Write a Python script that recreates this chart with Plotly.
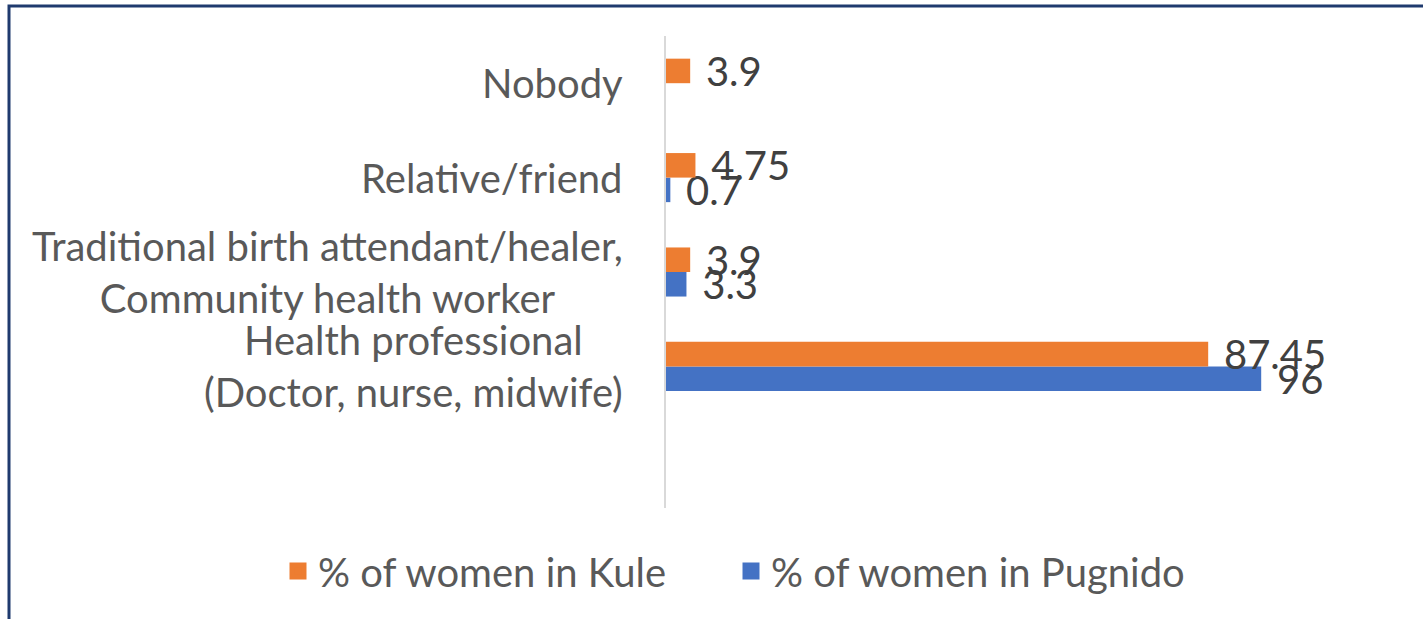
import plotly.graph_objects as go

# Data (categories listed bottom -> top; first is an empty placeholder slot)
categories = ["blank", "Health professional", "Traditional birth attendant", "Relative/friend", "Nobody"]
category_labels = ["", "Health professional<br>(Doctor, nurse, midwife)",
                   "Traditional birth attendant/healer,<br>Community health worker",
                   "Relative/friend", "Nobody"]
kule = [None, 87.45, 3.9, 4.75, 3.9]
pugnido = [None, 96, 3.3, 0.7, None]

ORANGE = "#ED7D31"
BLUE = "#4472C4"
FONT = "Lato"
FS = 40

W, H = 1423, 619
L, R = 666, 1410
T, B = 36, 508

def lab(v):
    if v is None:
        return None
    return "\u00a0\u200a" + ("%g" % v)

# legend symbol enlarged via the (invisible) placeholder point's outline
lw = [5, 0, 0, 0, 0]

fig = go.Figure()
fig.add_trace(go.Bar(
    y=categories, x=pugnido, orientation="h", name="% of women in Pugnido",
    marker=dict(color=BLUE, line=dict(color=BLUE, width=lw)),
    text=[lab(v) for v in pugnido], textposition="outside",
    textfont=dict(family=FONT, size=FS, color="#404040"), constraintext="none",
    cliponaxis=False, legendrank=2, hoverinfo="skip"))
fig.add_trace(go.Bar(
    y=categories, x=kule, orientation="h", name="% of women in Kule",
    marker=dict(color=ORANGE, line=dict(color=ORANGE, width=lw)),
    text=[lab(v) for v in kule], textposition="outside",
    textfont=dict(family=FONT, size=FS, color="#404040"), constraintext="none",
    cliponaxis=False, legendrank=1, hoverinfo="skip"))

annotations = []
for c, t in zip(categories, category_labels):
    if not t:
        continue
    annotations.append(dict(
        x=0, xref="paper", y=c, yref="y", text=t, showarrow=False,
        xanchor="right", yanchor="middle", xshift=-41, align="center",
        font=dict(family=FONT, size=FS, color="#595959")))

pw = R - L
ph = B - T
shapes = [dict(
    type="rect", xref="paper", yref="paper",
    x0=(9 - L) / pw, x1=(W + 20 - L) / pw,
    y0=(B - (H + 20)) / ph, y1=(B - 6) / ph,
    line=dict(color="#1F3A6E", width=3), fillcolor="rgba(0,0,0,0)", layer="below")]

fig.update_layout(
    width=W, height=H,
    margin=dict(l=L, r=W - R, t=T, b=H - B),
    paper_bgcolor="white", plot_bgcolor="white",
    barmode="group", bargap=0.48, bargroupgap=0,
    showlegend=True,
    legend=dict(orientation="h", xref="paper", yref="paper",
                x=(278 - L) / pw, y=(B - 571) / ph, xanchor="left", yanchor="middle",
                font=dict(family=FONT, size=FS, color="#595959"),
                entrywidth=408, entrywidthmode="pixels",
                traceorder="normal"),
    xaxis=dict(range=[0, 120], showticklabels=False, showgrid=False,
               zeroline=False, showline=False, ticks=""),
    yaxis=dict(categoryorder="array", categoryarray=categories,
               range=[-0.5, 4.5], showticklabels=False, showgrid=False,
               zeroline=False, showline=True, linecolor="#D9D9D9",
               linewidth=2, ticks=""),
    annotations=annotations, shapes=shapes,
)

fig.write_html("out.html", config={"displayModeBar": False},
               post_script="document.body.style.margin='0px';")
